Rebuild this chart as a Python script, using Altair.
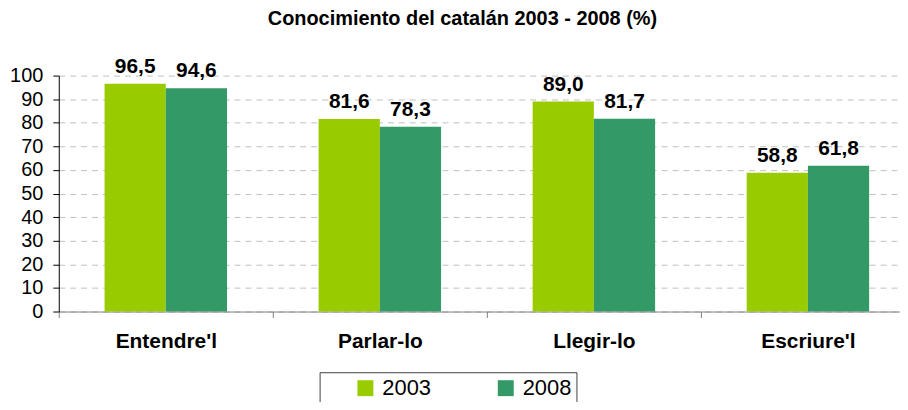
import altair as alt
import pandas as pd

categories = ["Entendre'l", "Parlar-lo", "Llegir-lo", "Escriure'l"]
years = ["2003", "2008"]
values_2003 = [96.5, 81.6, 89.0, 58.8]
values_2008 = [94.6, 78.3, 81.7, 61.8]
y_ticks = [0, 10, 20, 30, 40, 50, 60, 70, 80, 90, 100]

rows = []
for c, a, b in zip(categories, values_2003, values_2008):
    rows.append({"cat": c, "year": "2003", "value": a, "label": f"{a:.1f}".replace(".", ",")})
    rows.append({"cat": c, "year": "2008", "value": b, "label": f"{b:.1f}".replace(".", ",")})
df = pd.DataFrame(rows)

x_enc = alt.X("cat:N", sort=categories, title=None,
              scale=alt.Scale(range=[0, 860], paddingInner=0, paddingOuter=0),
              axis=alt.Axis(labelAngle=0, labelFont="Arial", labelFontSize=21, labelFontWeight="bold",
                            labelColor="#000", labelPadding=13, tickBand="extent", tickSize=6,
                            tickColor="#808080", domainColor="#808080", grid=False, labelBaseline="top"))
xoff = alt.XOffset("year:N", sort=years, scale=alt.Scale(paddingInner=0, paddingOuter=0.748))
y_enc = alt.Y("value:Q", title=None,
              scale=alt.Scale(domain=[0, 100], nice=False),
              axis=alt.Axis(values=y_ticks, tickCount=11, labelOverlap=False, labelFont="Arial",
                            labelFontSize=20, labelColor="#000", labelPadding=10, tickSize=6,
                            tickColor="#000", domainColor="#000", grid=True, gridColor="#c0c0c0",
                            gridDash=[6, 5], gridWidth=1))

bars = alt.Chart(df).mark_bar(size=61.5).encode(
    x=x_enc, xOffset=xoff, y=y_enc,
    color=alt.Color("year:N", sort=years, title=None,
                    scale=alt.Scale(domain=years, range=["#99CC00", "#339966"]),
                    legend=alt.Legend(orient="none", legendX=262, legendY=298, direction="horizontal",
                                      columns=2, symbolType="square", symbolSize=256,
                                      symbolStrokeWidth=0, symbolOffset=30, labelOffset=6,
                                      labelFont="Arial", labelFontSize=22, labelColor="#000",
                                      columnPadding=34, padding=5, strokeColor="#404040",
                                      fillColor="#ffffff")),
)

labels = alt.Chart(df).mark_text(font="Arial", fontSize=21, fontWeight="bold", color="#000",
                                 baseline="alphabetic", dy=-11).encode(
    x=alt.X("cat:N", sort=categories), xOffset=alt.XOffset("year:N", sort=years),
    y="value:Q", text="label:N")

chart = alt.layer(bars, labels).properties(
    width=845, height=237,
    autosize=alt.AutoSizeParams(type="none"),
    padding={"left": 51, "top": 67, "right": 0, "bottom": 90},
    title=alt.Title("Conocimiento del catalán 2003 - 2008 (%)", font="Arial", fontSize=20,
                    fontWeight="bold", color="#000", offset=27, dx=-17),
).configure_view(stroke=None)

chart.save("out.html", embed_options={"renderer": "svg", "actions": False})
